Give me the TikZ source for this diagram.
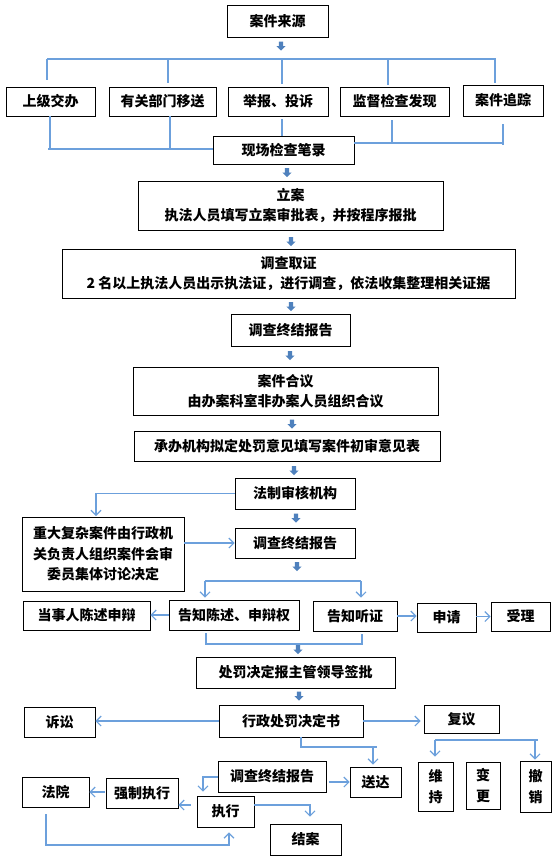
\documentclass[tikz,border=0pt]{standalone}
\usepackage{fontspec}
\newfontfamily\cjk{Noto Sans CJK SC}
\usetikzlibrary{arrows.meta}
\definecolor{connc}{RGB}{108,160,220}
\definecolor{blkc}{RGB}{79,129,189}
\tikzset{
  box/.style={draw=black, line width=0.9pt, inner sep=0pt, align=center,
    font=\cjk\bfseries\fontsize{14}{20.5}\selectfont},
  cn/.style={draw=connc, line width=1.1pt},
  ar/.style={cn, -{Straight Barb[length=5pt,width=10pt,line width=1.1pt]}},
  blockdown/.pic={\fill[blkc] (-2.2,-4.5) -- (2.2,-4.5) -- (2.2,0) -- (4.6,0) -- (0,4.5) -- (-4.6,0) -- (-2.2,0) -- cycle;}
}
\begin{document}
\begin{tikzpicture}[x=1pt,y=-1pt]
\useasboundingbox (0,0) rectangle (554,862);
\fill[white] (0,0) rectangle (554,862);
% boxes
\node[box,minimum width=101,minimum height=32] (src) at (277.5,21) {案件来源};
\node[box,minimum width=89,minimum height=29] (r1) at (50.5,101.5) {上级交办};
\node[box,minimum width=107,minimum height=29] (r2) at (162.5,101.5) {有关部门移送};
\node[box,minimum width=100,minimum height=29] (r3) at (278,101.5) {举报、投诉};
\node[box,minimum width=109,minimum height=29] (r4) at (394.5,101.5) {监督检查发现};
\node[box,minimum width=80,minimum height=31] (r5) at (503,100.5) {案件追踪};
\node[box,minimum width=141,minimum height=28] (xc) at (283.5,150) {现场检查笔录};
\node[box,minimum width=305,minimum height=49] (la) at (290.5,205.5) {立案\\执法人员填写立案审批表，并按程序报批};
\node[box,minimum width=453,minimum height=49] (dc) at (288.5,273.5) {调查取证\\2 名以上执法人员出示执法证，进行调查，依法收集整理相关证据};
\node[box,minimum width=119,minimum height=32] (zj1) at (290.5,330) {调查终结报告};
\node[box,minimum width=305,minimum height=48] (hy) at (285.5,391) {案件合议\\由办案科室非办案人员组织合议};
\node[box,minimum width=306,minimum height=30] (cb) at (287,446) {承办机构拟定处罚意见填写案件初审意见表};
\node[box,minimum width=120,minimum height=31] (fz) at (295,493.5) {法制审核机构};
\node[box,minimum width=162,minimum height=74] (zd) at (103,554) {重大复杂案件由行政机\\关负责人组织案件会审\\委员集体讨论决定};
\node[box,minimum width=120,minimum height=30] (zj2) at (295,543) {调查终结报告};
\node[box,minimum width=127,minimum height=29] (dsr) at (86.5,615.5) {当事人陈述申辩};
\node[box,minimum width=130,minimum height=30] (gz) at (234,615) {告知陈述、申辩权};
\node[box,minimum width=84,minimum height=30] (tz) at (355,616) {告知听证};
\node[box,minimum width=59,minimum height=29] (sq) at (446.5,617.5) {申请};
\node[box,minimum width=59,minimum height=29] (sl) at (520.5,616.5) {受理};
\node[box,minimum width=199,minimum height=31] (cf) at (295.5,672.5) {处罚决定报主管领导签批};
\node[box,minimum width=144,minimum height=32] (xz) at (291,721) {行政处罚决定书};
\node[box,minimum width=71,minimum height=30] (ss) at (59.5,722) {诉讼};
\node[box,minimum width=75,minimum height=28] (fy) at (461.5,719) {复议};
\node[box,minimum width=35,minimum height=49] (wc) at (435.5,786.5) {维\\持};
\node[box,minimum width=34,minimum height=47] (bg) at (483,785.5) {变\\更};
\node[box,minimum width=31,minimum height=51] (cx) at (535.5,786.5) {撤\\销};
\node[box,minimum width=51,minimum height=30] (sd) at (375.5,782) {送达};
\node[box,minimum width=108,minimum height=31] (zj3) at (272,776.5) {调查终结报告};
\node[box,minimum width=57,minimum height=31] (zx) at (225.5,811.5) {执行};
\node[box,minimum width=72,minimum height=30] (qz) at (142,793) {强制执行};
\node[box,minimum width=67,minimum height=30] (fyuan) at (55.5,792) {法院};
\node[box,minimum width=71,minimum height=31] (ja) at (305.5,839.5) {结案};
% block arrows
\foreach \p in {(281,46),(287,172.5),(291,241.5),(291,306.5),(290,355.5),(292,424),(294,470.5),(296,518),(297,566.5),(298,649.5),(299,696)}
  \pic at \p {blockdown};
% top distribution
\coordinate (bar) at (0,59);
\draw[cn] (47,59) -- (496,59);
\draw[cn] (47,59) -- (47,80);
\draw[cn] (168,59) -- (168,83);
\draw[cn] (282,59) -- (282,84);
\draw[cn] (388,59) -- (388,85);
\draw[cn] (495,59) -- (495,83);
% merge into xc
\draw[cn] (50,116) -- (50,148);
\draw[cn] (170,116) -- (170,148);
\draw[cn] (48,149) -- (xc.west |- 0,149);
\draw[cn] (282,119) -- (282,136);
\draw[cn] (392,120) -- (392,143);
\draw[cn] (503,124) -- (503,145);
\draw[cn] (xc.east |- 0,143) -- (503,143);
% legal review branch
\draw[ar] (fz.west) -- (96,493.5) -- (96,516);
\draw[ar] (zd.east |- zj2) -- (zj2.west);
% split to notices
\coordinate (s1) at (205,581);
\coordinate (s2) at (361,581);
\draw[cn] (s1) -- (s2);
\draw[ar] (s1) -- ([yshift=2pt]s1 |- gz.north);
\draw[ar] (s2) -- ([yshift=3pt]s2 |- tz.north);
\draw[ar] (gz.west) -- (dsr.east |- gz.west);
\draw[ar] (tz.east) -- (sq.west |- tz.east);
\draw[ar] (sq.east |- sl.west) -- (sl.west);
\draw[cn] (206,633) -- (206,644) -- (362,644) -- (362,634);
% decision
\draw[ar] (xz.west) -- (ss.east |- xz.west);
\draw[ar] (xz.east) -- ([xshift=-3pt]fy.west |- xz.east);
\draw[cn] (435,740) -- (538,740);
\draw[ar] (435,740) -- ([yshift=5pt]wc.north -| 435,0);
\draw[ar] (535,740) -- ([yshift=1pt]cx.north -| 535,0);
\draw[cn] (301,737) -- (301,747) -- (377,747);
\draw[ar] (373,747) -- ([yshift=2pt]sd.north -| 373,0);
\draw[ar] ([xshift=3pt]zj3.east |- sd.west) -- (sd.west);
\draw[ar] ([yshift=-0.5pt]zj3.west) -- (203,777) -- ([yshift=4pt]zx.north -| 203,0);
\draw[ar] ([xshift=-6pt]zx.west |- 0,805) -- (qz.east |- 0,805);
\draw[ar] ([xshift=-1pt]qz.west |- fyuan.east) -- (fyuan.east);
\draw[ar] (46,814) -- (46,845) -- (229,845) -- ([yshift=-5pt]zx.south -| 229,0);
\draw[ar] (zx.east |- 0,805) -- (310,805) -- ([yshift=7pt]ja.north -| 310,0);
\end{tikzpicture}
\end{document}
